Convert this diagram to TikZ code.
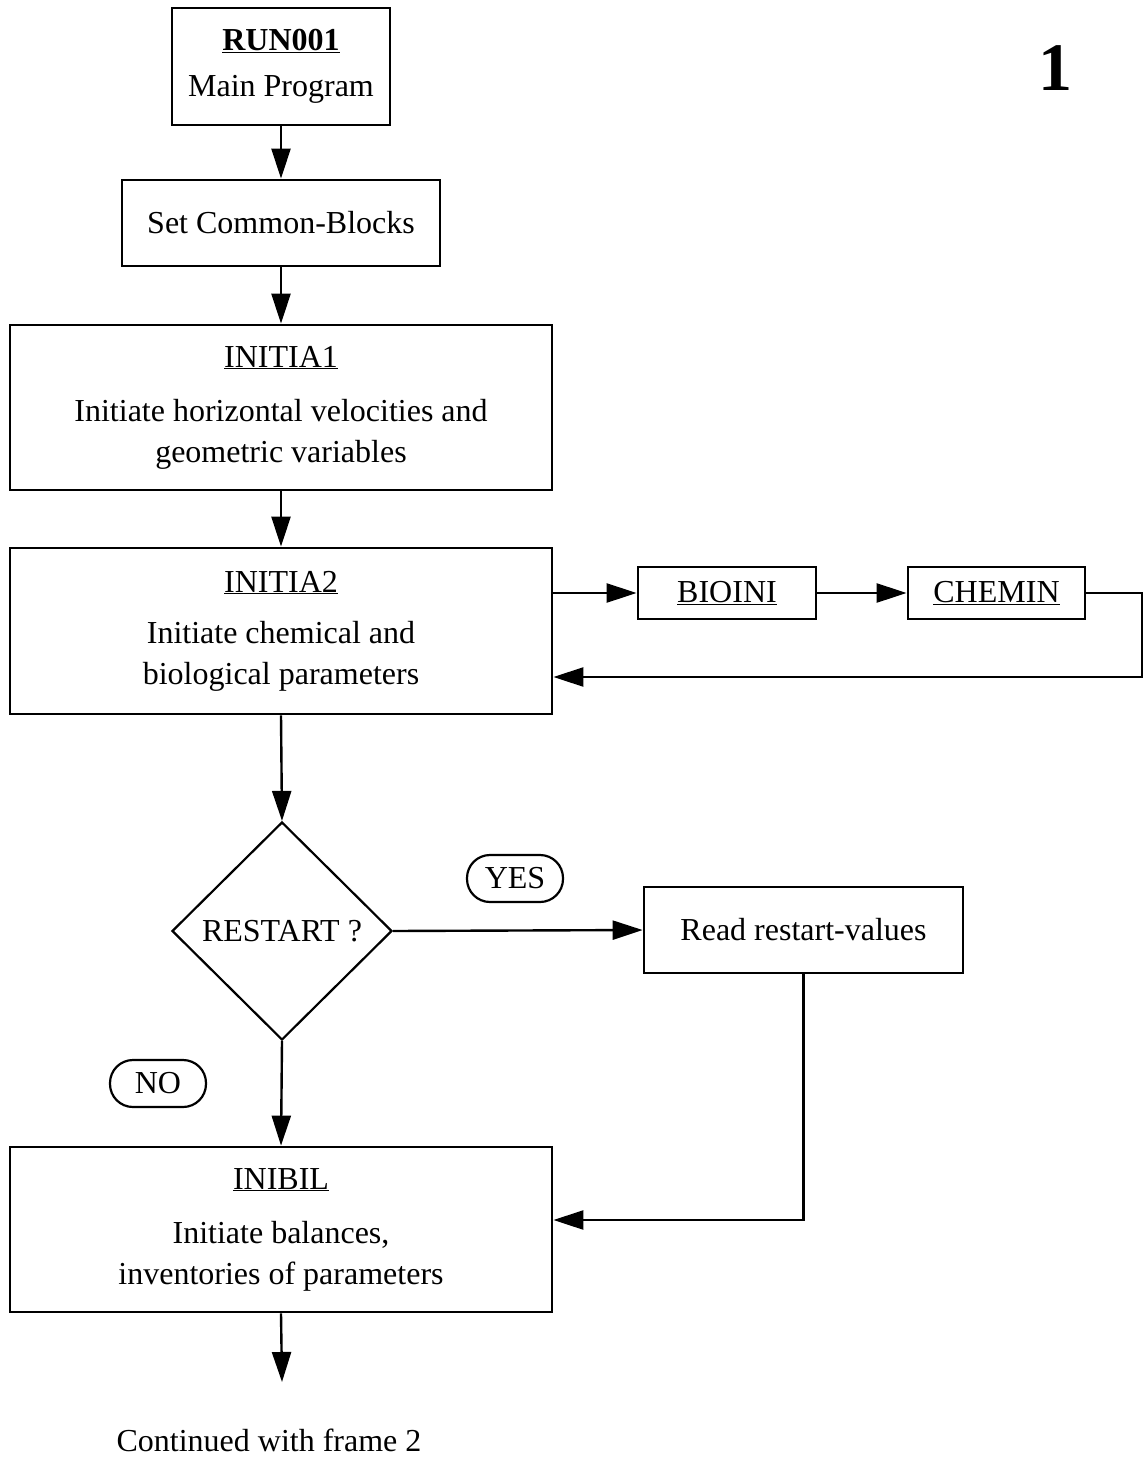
\documentclass[tikz,border=0pt]{standalone}
\usepackage{fontspec}
\setmainfont{Liberation Serif}
\usetikzlibrary{arrows.meta,shapes.geometric}
\begin{document}
\begin{tikzpicture}[x=1pt,y=-1pt,
  box/.style={draw,line width=2.8pt,rectangle,inner sep=0pt,align=center,
    font=\fontsize{32}{41}\selectfont},
  tag/.style={draw,line width=2.2pt,rectangle,rounded corners=23pt,inner sep=0pt,
    minimum width=96pt,minimum height=47pt,font=\fontsize{32}{36}\selectfont},
  arr/.style={line width=2.4pt,-{Triangle[length=30pt,width=19pt]}},
  ln/.style={line width=2.4pt}]
\useasboundingbox (0,0) rectangle (1144,1463);
\node[box,minimum width=218pt,minimum height=117pt] (run) at (281,66.5)
  {\textbf{\underline{RUN001}}\\[5pt]Main Program};
\node[box,minimum width=318pt,minimum height=86pt] (set) at (281,223) {Set Common-Blocks};
\node[box,minimum width=542pt,minimum height=165pt] (ini1) at (281,407.5)
  {\underline{INITIA1}\\[13pt]Initiate horizontal velocities and\\geometric variables};
\node[box,minimum width=542pt,minimum height=166pt] (ini2) at (281,631)
  {\underline{INITIA2}\\[10pt]Initiate chemical and\\biological parameters};
\node[box,minimum width=178pt,minimum height=52pt] (bio) at (727,593) {\underline{BIOINI}};
\node[box,minimum width=177pt,minimum height=52pt] (chem) at (996.5,593) {\underline{CHEMIN}};
\node[draw,line width=2.2pt,diamond,aspect=1,inner sep=0pt,minimum width=220pt,minimum height=218pt,
  font=\fontsize{32}{36}\selectfont] (dec) at (282,931) {RESTART ?};
\node[tag] (yes) at (515,878.5) {YES};
\node[tag] (no) at (158,1083.5) {NO};
\node[box,minimum width=319pt,minimum height=86pt] (read) at (803.5,930) {Read restart-values};
\node[box,minimum width=542pt,minimum height=165pt] (inib) at (281,1229.5)
  {\underline{INIBIL}\\[13pt]Initiate balances,\\inventories of parameters};
\node[font=\fontsize{32}{36}\selectfont] (cont) at (269,1440) {Continued with frame 2};
\node[font=\fontsize{68}{68}\selectfont\bfseries] (num) at (1055,68) {1};
\coordinate (back) at (1142,677);
\coordinate (down) at (282,1382);
\draw[arr] (run) -- (set);
\draw[arr] (set) -- (ini1);
\draw[arr] (ini1) -- (ini2);
\draw[arr] (ini2.east |- bio.west) -- (bio.west);
\draw[arr] (bio) -- (chem);
\draw[arr] (chem.east) -| (back) -- (back -| ini2.east);
\draw[arr] (ini2.south) -- (dec.north);
\draw[arr] (dec.east) -- (read.west);
\draw[arr] (dec.south) -- (inib.north);
\draw[arr] (read.south) |- ([yshift=9.5pt]inib.east);
\draw[arr] (inib.south) -- (down);
\end{tikzpicture}
\end{document}
